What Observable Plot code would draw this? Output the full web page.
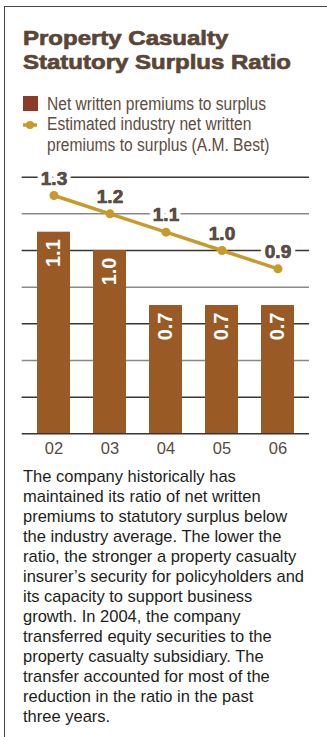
<!DOCTYPE html>
<html><head><meta charset="utf-8">
<script src="https://cdn.jsdelivr.net/npm/d3@7"></script>
<script src="https://cdn.jsdelivr.net/npm/@observablehq/plot@0.6"></script>
<style>
html,body{margin:0;padding:0;background:#fff;}
body{width:327px;height:737px;position:relative;overflow:hidden;font-family:"Liberation Sans",Arial,sans-serif;}
.frame-top{position:absolute;left:4px;top:6px;width:323px;height:0;border-top:1.5px solid #4a4540;}
.frame-left{position:absolute;left:3.5px;top:6px;width:0;height:731px;border-left:1.5px solid #4a4540;}
.ln{position:absolute;white-space:nowrap;display:inline-block;transform-origin:0 0;}
</style></head><body>
<div class="frame-top"></div><div class="frame-left"></div>
<div id="texts"></div>
<svg id="legendMarks" width="40" height="50" style="position:absolute;left:0;top:90px;overflow:visible"></svg>
<div id="chart" style="position:absolute;left:0;top:160px;"></div>
<script>
// ---- data ----
const titleLines = ["Property Casualty", "Statutory Surplus Ratio"];
const legendLines = ["Net written premiums to surplus", "Estimated industry net written", "premiums to surplus (A.M. Best)"];
const years = ["02", "03", "04", "05", "06"];
const companyRatio = [1.1, 1.0, 0.7, 0.7, 0.7];
const industryRatio = [1.3, 1.2, 1.1, 1.0, 0.9];
const gridValues = [0.2, 0.4, 0.6, 0.8, 1.0, 1.2, 1.4];
const noteLines = [
  "The company historically has",
  "maintained its ratio of net written",
  "premiums to statutory surplus below",
  "the industry average. The lower the",
  "ratio, the stronger a property casualty",
  "insurer\u2019s security for policyholders and",
  "its capacity to support business",
  "growth. In 2004, the company",
  "transferred equity securities to the",
  "property casualty subsidiary. The",
  "transfer accounted for most of the",
  "reduction in the ratio in the past",
  "three years."
];

// ---- html text helper ----
const host = document.getElementById("texts");
function placeLines(lines, o) {
  const spans = lines.map((t, i) => {
    const s = document.createElement("span");
    s.className = "ln";
    s.textContent = t;
    s.style.left = o.left + "px";
    s.style.fontSize = o.fontSize + "px";
    s.style.lineHeight = o.fontSize + "px";
    s.style.fontWeight = o.weight || "normal";
    s.style.color = o.color;
    if (o.textStroke) s.style.webkitTextStroke = o.textStroke + "px " + o.color;
    s.style.top = (o.firstBaseline + i * o.lineHeight - 0.8465 * o.fontSize) + "px";
    host.appendChild(s);
    return s;
  });
  const ref = spans[o.refIndex];
  const k = o.refWidth / ref.getBoundingClientRect().width;
  spans.forEach(s => s.style.transform = `scaleX(${k})`);
}
placeLines(titleLines, {left: 23, fontSize: 21, weight: "bold", color: "#5b4636", textStroke: 0.7, firstBaseline: 45, lineHeight: 24, refIndex: 1, refWidth: 268});
placeLines(legendLines, {left: 47, fontSize: 17.5, color: "#5d4c40", firstBaseline: 111, lineHeight: 20.3, refIndex: 0, refWidth: 219});
placeLines(noteLines, {left: 23, fontSize: 17, color: "#231e1b", firstBaseline: 482.3, lineHeight: 20, refIndex: 5, refWidth: 281});

// legend symbols
const lm = d3.select("#legendMarks");
lm.append("rect").attr("x", 23).attr("y", 6).attr("width", 15).attr("height", 15).attr("fill", "#8a3c28");
lm.append("line").attr("x1", 23).attr("x2", 37).attr("y1", 35).attr("y2", 35).attr("stroke", "#c79a2b").attr("stroke-width", 3.5);
lm.append("circle").attr("cx", 30).attr("cy", 35).attr("r", 4).attr("fill", "#c79a2b");

// ---- chart ----
const bars = years.map((y, i) => ({year: y, value: companyRatio[i]}));
const industry = years.map((y, i) => ({year: y, value: industryRatio[i]}));
const darkGrid = gridValues.filter((v, i) => i % 2 === 0);
const lightGrid = gridValues.filter((v, i) => i % 2 === 1);

const chart = Plot.plot({
  width: 327, height: 300,
  marginTop: 16.7, marginBottom: 26.7, marginLeft: 21.7, marginRight: 18,
  style: {fontFamily: '"Liberation Sans", Arial, sans-serif', fontSize: "16.5px", color: "#5a4a40", background: "transparent", overflow: "visible"},
  x: {domain: years, paddingInner: 0.41, paddingOuter: 0.27, tickSize: 0, tickPadding: 8.4, label: null},
  y: {domain: [0, 1.4], axis: null},
  marks: [
    Plot.ruleY(lightGrid, {stroke: "#8d8883", strokeWidth: 1.5}),
    Plot.ruleY(darkGrid, {stroke: "#3b3632", strokeWidth: 1.5}),
    Plot.barY(bars, {x: "year", y: "value", fill: "#9a5a25"}),
    Plot.ruleY([0], {stroke: "#3b3632", strokeWidth: 1.5}),
    Plot.text(bars, {x: "year", y: "value", text: d => d.value.toFixed(1), rotate: -90, textAnchor: "end", dy: 7, fill: "white", fontWeight: "bold", fontSize: 20, ariaLabel: "bar-values"}),
    Plot.line(industry, {x: "year", y: "value", stroke: "#c79a2b", strokeWidth: 3.5}),
    Plot.dot(industry, {x: "year", y: "value", r: 4.5, fill: "#c79a2b"}),
    Plot.text(industry, {x: "year", y: "value", text: d => d.value.toFixed(1), dy: -17, fill: "#5a4d43", stroke: "white", strokeWidth: 9, paintOrder: "stroke", fontWeight: "bold", fontSize: 19, ariaLabel: "industry-values"}),
    Plot.text(industry, {x: "year", y: "value", text: d => d.value.toFixed(1), dy: -17, fill: "#5a4d43", stroke: "#5a4d43", strokeWidth: 0.6, fontWeight: "bold", fontSize: 19, ariaLabel: "industry-values-ink"})
  ]
});
function condense(sel, k) {
  chart.querySelectorAll(sel).forEach(t => t.setAttribute("transform", (t.getAttribute("transform") || "") + ` scale(${k},1)`));
}
condense('g[aria-label="bar-values"] text', 0.8);
condense('g[aria-label="industry-values"] text', 0.85);
condense('g[aria-label="industry-values-ink"] text', 0.85);
document.getElementById("chart").appendChild(chart);
</script>
</body></html>
